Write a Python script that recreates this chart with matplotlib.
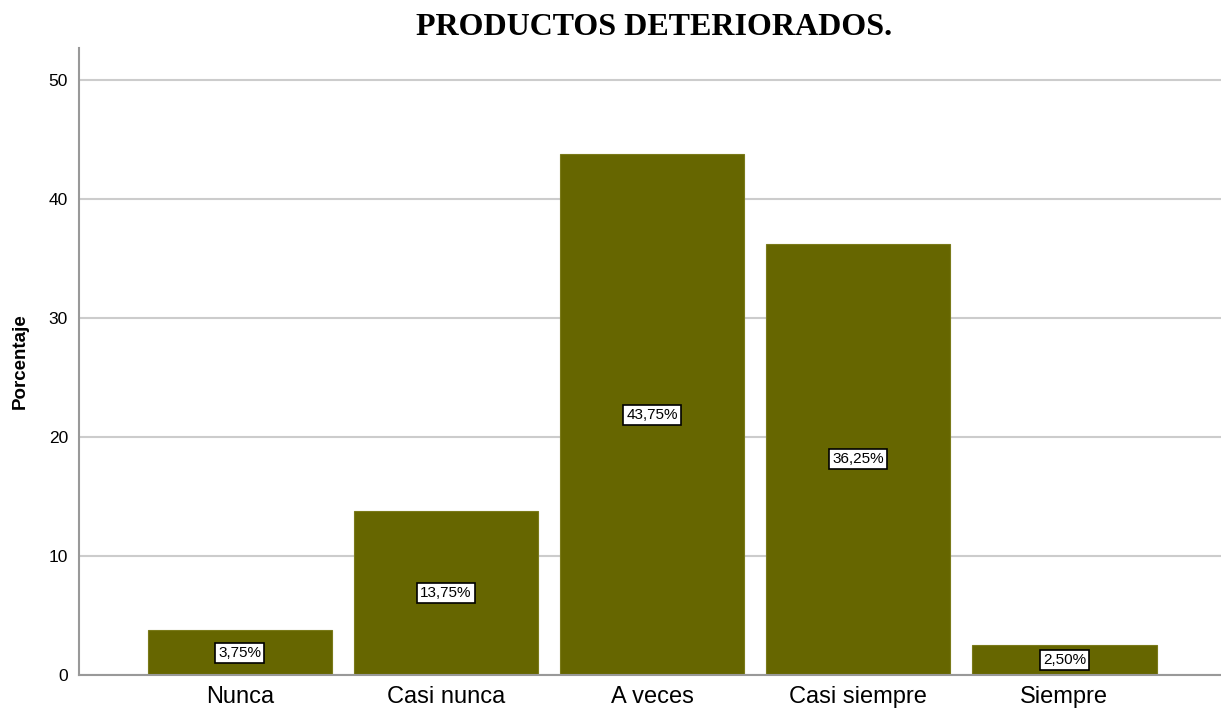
import matplotlib
matplotlib.use("Agg")
import matplotlib.pyplot as plt

categories = ["Nunca", "Casi nunca", "A veces", "Casi siempre", "Siempre"]
percentages = [3.75, 13.75, 43.75, 36.25, 2.50]
bar_labels = ["3,75%", "13,75%", "43,75%", "36,25%", "2,50%"]
y_ticks = [0, 10, 20, 30, 40, 50]

fig = plt.figure(figsize=(12.21, 7.12), dpi=100)
ax = fig.add_axes([0.0647, 0.052, 0.9353, 0.8806])

x = list(range(len(categories)))
ax.set_axisbelow(True)
ax.yaxis.grid(True, color="#cccccc", linewidth=1.5)
ax.bar(x, percentages, width=0.895, color="#666600", edgecolor="#7a7a1a", linewidth=0.8)

for xi, val, lab in zip(x, percentages, bar_labels):
    ax.text(xi, val / 2, lab, ha="center", va="center", fontsize=11,
            family="Liberation Sans",
            bbox=dict(boxstyle="square,pad=0.2", facecolor="white", edgecolor="black", linewidth=1.2))

ax.set_xlim(-0.78, 4.76)
ax.set_ylim(0, 52.7)
ax.set_xticks(x)
ax.set_xticklabels(categories, fontsize=17, family="Liberation Sans")
ax.set_yticks(y_ticks)
ax.set_yticklabels([str(t) for t in y_ticks], fontsize=12.5, family="Liberation Sans")
ax.tick_params(length=0)
ax.tick_params(axis="x", pad=8)
ax.tick_params(axis="y", pad=8)

for side in ["top", "right"]:
    ax.spines[side].set_visible(False)
for side in ["left", "bottom"]:
    ax.spines[side].set_color("#999999")
    ax.spines[side].set_linewidth(1.5)

ax.set_ylabel("Porcentaje", fontsize=13.5, fontweight="bold", family="Liberation Sans", labelpad=14)
fig.text(0.536, 0.962, "PRODUCTOS DETERIORADOS.", ha="center", va="center",
         fontsize=23, fontweight="bold", family="Liberation Serif")

fig.savefig("out.png", dpi=100)
